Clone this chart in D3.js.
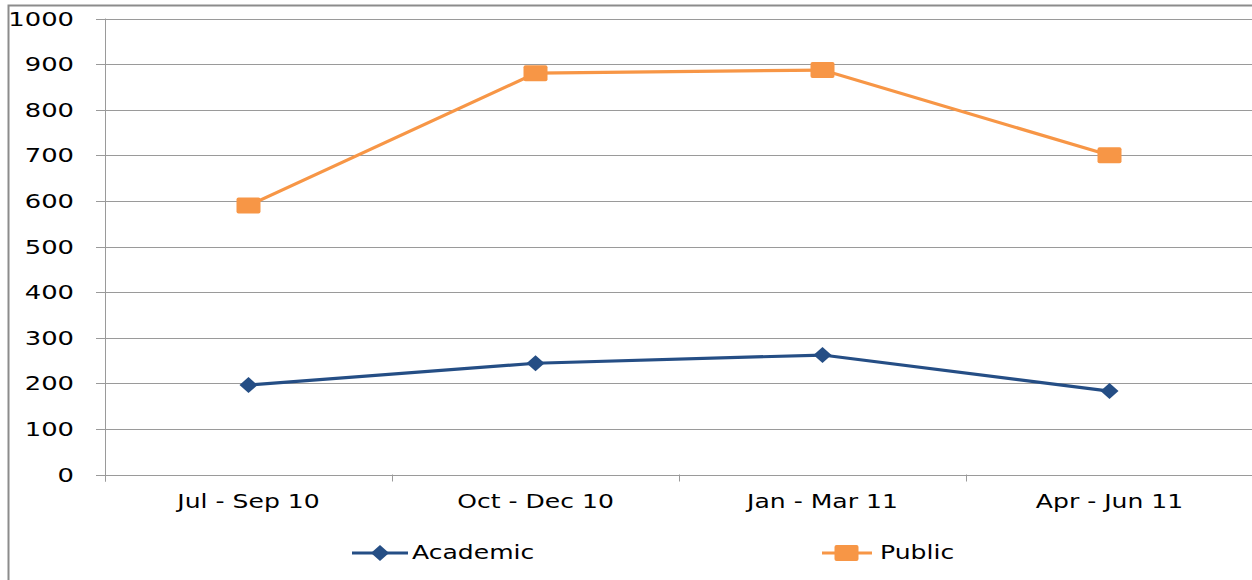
<!DOCTYPE html>
<html><head><meta charset="utf-8">
<script src="https://cdn.jsdelivr.net/npm/d3@7"></script>
<style>
html,body{margin:0;padding:0;background:#fff;}
svg{display:block;}
text{font-family:"DejaVu Sans",sans-serif;fill:#000;}
</style></head>
<body>
<svg id="c" width="1252" height="580"></svg>
<script>
const categories = ["Jul - Sep 10", "Oct - Dec 10", "Jan - Mar 11", "Apr - Jun 11"];
const academic = [196, 244, 262, 183];
const publicVals = [590, 880, 887, 700];
const yTicks = [0, 100, 200, 300, 400, 500, 600, 700, 800, 900, 1000];
const seriesNames = ["Academic", "Public"];
const colors = {Academic: "#254E85", Public: "#F79646"};

(function(){
const svg = d3.select("#c");
const W = 1252, H = 580;
const pLeft = 105, pRight = 1253, pTop = 18.5, pBottom = 474.5;
const SXY = 1.36, SXX = 1.32, SXL = 1.32;

// frame
svg.append("path").attr("d", `M8.5,${H} V5.5 H${W}`).attr("fill","none").attr("stroke","#8c8c8c").attr("stroke-width",2);

const x = d3.scalePoint().domain(categories).range([pLeft, pRight]).padding(0.5);
const y = d3.scaleLinear().domain([0, 1000]).range([pBottom, pTop]);

// gridlines + y ticks
const g = svg.append("g");
g.selectAll("line.grid").data(yTicks).join("line")
  .attr("x1", pLeft - 9).attr("x2", pRight)
  .attr("y1", d => Math.round(y(d)) + 0.5).attr("y2", d => Math.round(y(d)) + 0.5)
  .attr("stroke", "#9a9a9a").attr("stroke-width", 1);
g.selectAll("text.yt").data(yTicks).join("text")
  .attr("text-anchor", "end").style("font-size", "19px")
  .attr("transform", d => `translate(74,${Math.round(y(d)) + 7}) scale(${SXY},1)`)
  .text(d => d);

// y axis line
svg.append("line").attr("x1", pLeft + 0.5).attr("x2", pLeft + 0.5).attr("y1", pTop).attr("y2", pBottom + 7)
  .attr("stroke", "#9a9a9a");

// x ticks between categories
const step = x.step();
const boundaries = d3.range(categories.length + 1).map(i => pLeft + i * step);
svg.selectAll("line.xt").data(boundaries).join("line")
  .attr("x1", d => Math.round(d) + 0.5).attr("x2", d => Math.round(d) + 0.5)
  .attr("y1", pBottom).attr("y2", pBottom + 7).attr("stroke", "#9a9a9a");

svg.selectAll("text.xl").data(categories).join("text")
  .attr("text-anchor", "middle").style("font-size", "19px")
  .attr("transform", d => `translate(${x(d)},508) scale(${SXX},1)`)
  .text(d => d);

// lines
const line = d3.line().x((d, i) => x(categories[i])).y(d => y(d));
svg.append("path").datum(academic).attr("d", line).attr("fill", "none")
  .attr("stroke", colors.Academic).attr("stroke-width", 3.2).attr("stroke-linejoin","round");
svg.append("path").datum(publicVals).attr("d", line).attr("fill", "none")
  .attr("stroke", colors.Public).attr("stroke-width", 3.2).attr("stroke-linejoin","round");

function diamond(sel, cx, cy) {
  sel.append("path").attr("d", `M${cx},${cy-8} L${cx+9},${cy} L${cx},${cy+8} L${cx-9},${cy} Z`)
    .attr("fill", colors.Academic);
}
function square(sel, cx, cy) {
  sel.append("rect").attr("x", cx - 12).attr("y", cy - 8).attr("width", 24).attr("height", 16)
    .attr("rx", 2).attr("fill", colors.Public);
}
academic.forEach((v, i) => diamond(svg, x(categories[i]), y(v)));
publicVals.forEach((v, i) => square(svg, x(categories[i]), y(v)));

// legend
const ly = 553;
svg.append("line").attr("x1", 352).attr("x2", 408).attr("y1", ly).attr("y2", ly)
  .attr("stroke", colors.Academic).attr("stroke-width", 3.2);
diamond(svg, 380, ly);
svg.append("text").style("font-size", "19px").attr("transform", `translate(412,559) scale(${SXL},1)`).text(seriesNames[0]);

svg.append("line").attr("x1", 822).attr("x2", 872).attr("y1", ly).attr("y2", ly)
  .attr("stroke", colors.Public).attr("stroke-width", 3.2);
square(svg, 846.5, ly);
svg.append("text").style("font-size", "19px").attr("transform", `translate(880,559) scale(${SXL},1)`).text(seriesNames[1]);
})();
</script>
</body></html>
